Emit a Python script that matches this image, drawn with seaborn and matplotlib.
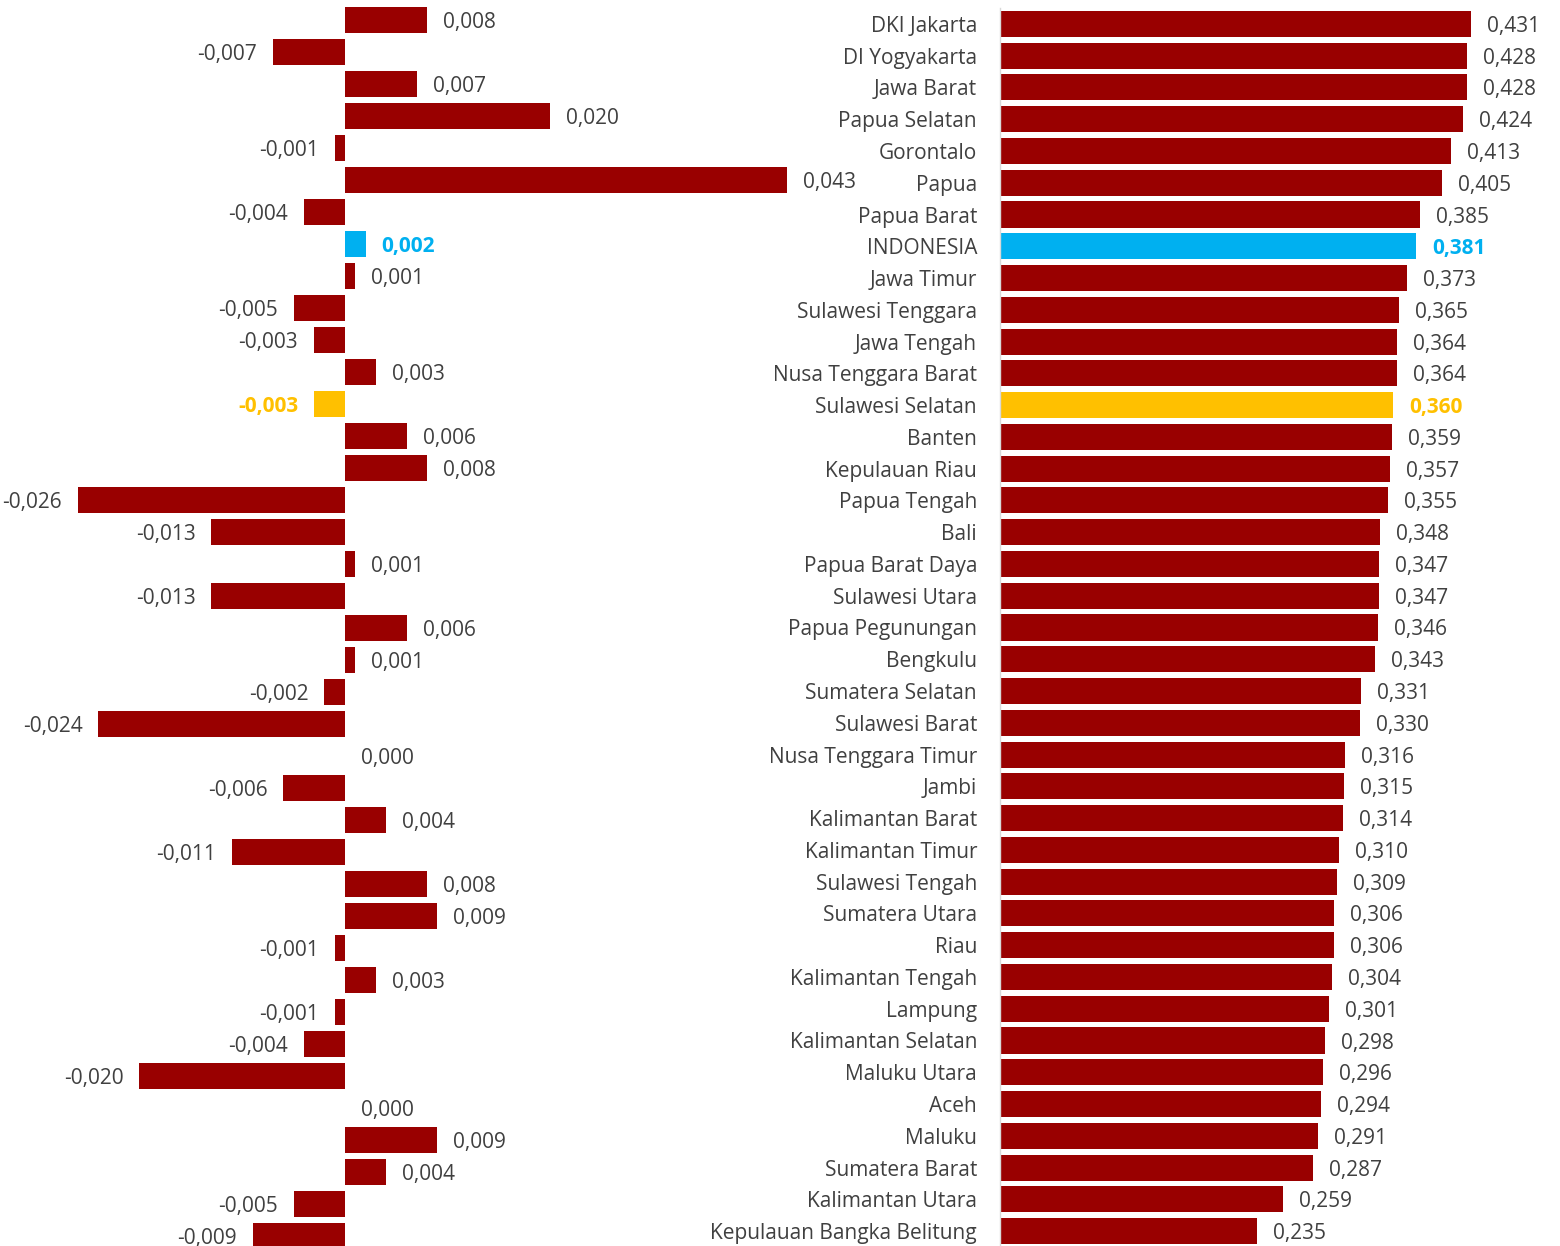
import matplotlib
matplotlib.use("Agg")
import matplotlib.pyplot as plt
import seaborn as sns
import pandas as pd

provinsi = ["DKI Jakarta", "DI Yogyakarta", "Jawa Barat", "Papua Selatan", "Gorontalo",
            "Papua", "Papua Barat", "INDONESIA", "Jawa Timur", "Sulawesi Tenggara",
            "Jawa Tengah", "Nusa Tenggara Barat", "Sulawesi Selatan", "Banten",
            "Kepulauan Riau", "Papua Tengah", "Bali", "Papua Barat Daya", "Sulawesi Utara",
            "Papua Pegunungan", "Bengkulu", "Sumatera Selatan", "Sulawesi Barat",
            "Nusa Tenggara Timur", "Jambi", "Kalimantan Barat", "Kalimantan Timur",
            "Sulawesi Tengah", "Sumatera Utara", "Riau", "Kalimantan Tengah", "Lampung",
            "Kalimantan Selatan", "Maluku Utara", "Aceh", "Maluku", "Sumatera Barat",
            "Kalimantan Utara", "Kepulauan Bangka Belitung"]

gini = [0.431, 0.428, 0.428, 0.424, 0.413, 0.405, 0.385, 0.381, 0.373, 0.365,
        0.364, 0.364, 0.360, 0.359, 0.357, 0.355, 0.348, 0.347, 0.347, 0.346,
        0.343, 0.331, 0.330, 0.316, 0.315, 0.314, 0.310, 0.309, 0.306, 0.306,
        0.304, 0.301, 0.298, 0.296, 0.294, 0.291, 0.287, 0.259, 0.235]

perubahan = [0.008, -0.007, 0.007, 0.020, -0.001, 0.043, -0.004, 0.002, 0.001, -0.005,
             -0.003, 0.003, -0.003, 0.006, 0.008, -0.026, -0.013, 0.001, -0.013, 0.006,
             0.001, -0.002, -0.024, 0.000, -0.006, 0.004, -0.011, 0.008, 0.009, -0.001,
             0.003, -0.001, -0.004, -0.020, 0.000, 0.009, 0.004, -0.005, -0.009]

MERAH = "#990000"
BIRU = "#00B0F0"
KUNING = "#FFC000"
ABU = "#404040"

def warna(p):
    if p == "INDONESIA":
        return BIRU
    if p == "Sulawesi Selatan":
        return KUNING
    return MERAH

pal = {p: warna(p) for p in provinsi}
df = pd.DataFrame({"provinsi": provinsi, "gini": gini, "perubahan": perubahan})

sns.set_style("white")
plt.rcParams["font.family"] = ["Open Sans", "DejaVu Sans"]
FS = 15

W, H = 1560, 1246
fig = plt.figure(figsize=(W / 100, H / 100), dpi=100)

# left panel: zero at x=345 px, 10275 px per unit
ax1 = fig.add_axes([0, -6 / H, 990 / W, 1248 / H])
# right panel: zero at x=1000 px, 1092 px per unit
ax2 = fig.add_axes([1000 / W, -1 / H, 560 / W, 1239 / H])

sns.barplot(data=df, x="perubahan", y="provinsi", hue="provinsi", palette=pal,
            legend=False, width=0.82, ax=ax1, orient="h", saturation=1,
            linewidth=0)
sns.barplot(data=df, x="gini", y="provinsi", hue="provinsi", palette=pal,
            legend=False, width=0.82, ax=ax2, orient="h", saturation=1,
            linewidth=0)

ax1.set_xlim(-345 / 10275, 645 / 10275)
ax2.set_xlim(0, 560 / 1092)
for ax in (ax1, ax2):
    ax.set_ylim(len(provinsi) - 0.5, -0.5)
    ax.set_xlabel("")
    ax.set_ylabel("")
    ax.set_xticks([])

ax1.set_yticks([])
for s in ax1.spines.values():
    s.set_visible(False)

for s in ["top", "right", "bottom"]:
    ax2.spines[s].set_visible(False)
ax2.spines["left"].set_color("#D9D9D9")
ax2.spines["left"].set_linewidth(1)
ax2.set_yticks(range(len(provinsi)))
ax2.set_yticklabels(provinsi, fontsize=FS, color=ABU)
ax2.tick_params(axis="y", length=0, pad=16.5)

def fmt(v):
    return f"{v:.3f}".replace(".", ",")

off1 = 16 / 10275
off2 = 16 / 1092
for i, (p, d, g) in enumerate(zip(provinsi, perubahan, gini)):
    c = warna(p)
    col = ABU if c == MERAH else c
    bold = "bold" if c != MERAH else "normal"
    if d < 0:
        ax1.text(d - off1, i, fmt(d), ha="right", va="center_baseline", fontsize=FS,
                 color=col, fontweight=bold)
    else:
        ax1.text(d + off1, i, fmt(d), ha="left", va="center_baseline", fontsize=FS,
                 color=col, fontweight=bold)
    ax2.text(g + off2, i, fmt(g), ha="left", va="center_baseline", fontsize=FS,
             color=col, fontweight=bold)

fig.savefig("out.png", dpi=100)
